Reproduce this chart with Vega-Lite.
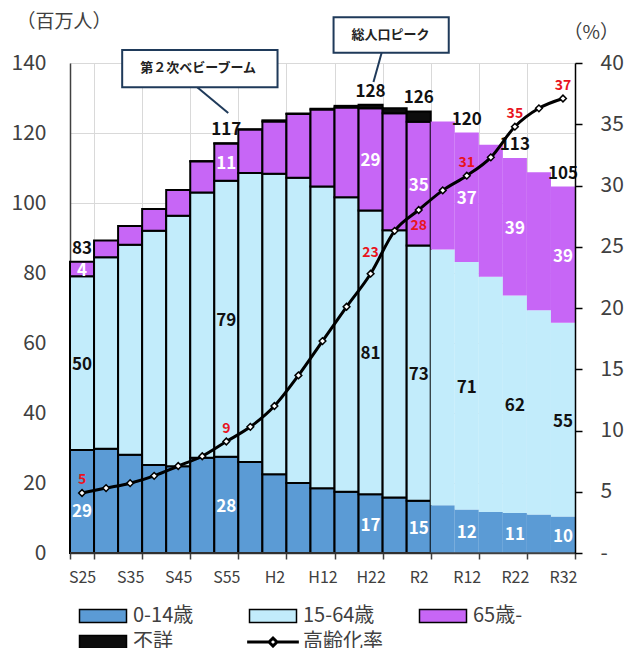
{
  "$schema": "https://vega.github.io/schema/vega-lite/v6.json",
  "autosize": "none",
  "width": 505,
  "height": 490,
  "padding": {"left": 70, "top": 63, "right": 49, "bottom": 95},
  "background": "white",
  "config": {
    "font": "Noto Sans CJK JP",
    "view": {"stroke": null},
    "text": {"font": "Noto Sans CJK JP"}
  },
  "datasets": {
    "pop": [
      {"year": "S25", "age": "0-14歳", "value": 29.43}, {"year": "S25", "age": "15-64歳", "value": 49.66}, {"year": "S25", "age": "65歳-", "value": 4.11},
      {"year": "S30", "age": "0-14歳", "value": 29.80}, {"year": "S30", "age": "15-64歳", "value": 54.73}, {"year": "S30", "age": "65歳-", "value": 4.75},
      {"year": "S35", "age": "0-14歳", "value": 28.07}, {"year": "S35", "age": "15-64歳", "value": 60.00}, {"year": "S35", "age": "65歳-", "value": 5.35},
      {"year": "S40", "age": "0-14歳", "value": 25.17}, {"year": "S40", "age": "15-64歳", "value": 66.93}, {"year": "S40", "age": "65歳-", "value": 6.18},
      {"year": "S45", "age": "0-14歳", "value": 24.82}, {"year": "S45", "age": "15-64歳", "value": 71.57}, {"year": "S45", "age": "65歳-", "value": 7.33},
      {"year": "S50", "age": "0-14歳", "value": 27.22}, {"year": "S50", "age": "15-64歳", "value": 75.81}, {"year": "S50", "age": "65歳-", "value": 8.87}, {"year": "S50", "age": "不詳", "value": 0.05},
      {"year": "S55", "age": "0-14歳", "value": 27.51}, {"year": "S55", "age": "15-64歳", "value": 78.84}, {"year": "S55", "age": "65歳-", "value": 10.65}, {"year": "S55", "age": "不詳", "value": 0.07},
      {"year": "S60", "age": "0-14歳", "value": 26.03}, {"year": "S60", "age": "15-64歳", "value": 82.51}, {"year": "S60", "age": "65歳-", "value": 12.47}, {"year": "S60", "age": "不詳", "value": 0.04},
      {"year": "H2", "age": "0-14歳", "value": 22.49}, {"year": "H2", "age": "15-64歳", "value": 85.90}, {"year": "H2", "age": "65歳-", "value": 14.90}, {"year": "H2", "age": "不詳", "value": 0.33},
      {"year": "H7", "age": "0-14歳", "value": 20.01}, {"year": "H7", "age": "15-64歳", "value": 87.17}, {"year": "H7", "age": "65歳-", "value": 18.26}, {"year": "H7", "age": "不詳", "value": 0.13},
      {"year": "H12", "age": "0-14歳", "value": 18.47}, {"year": "H12", "age": "15-64歳", "value": 86.22}, {"year": "H12", "age": "65歳-", "value": 22.01}, {"year": "H12", "age": "不詳", "value": 0.23},
      {"year": "H17", "age": "0-14歳", "value": 17.52}, {"year": "H17", "age": "15-64歳", "value": 84.09}, {"year": "H17", "age": "65歳-", "value": 25.67}, {"year": "H17", "age": "不詳", "value": 0.48},
      {"year": "H22", "age": "0-14歳", "value": 16.80}, {"year": "H22", "age": "15-64歳", "value": 81.03}, {"year": "H22", "age": "65歳-", "value": 29.25}, {"year": "H22", "age": "不詳", "value": 0.98},
      {"year": "H27", "age": "0-14歳", "value": 15.89}, {"year": "H27", "age": "15-64歳", "value": 76.29}, {"year": "H27", "age": "65歳-", "value": 33.47}, {"year": "H27", "age": "不詳", "value": 1.45},
      {"year": "R2", "age": "0-14歳", "value": 14.96}, {"year": "R2", "age": "15-64歳", "value": 72.92}, {"year": "R2", "age": "65歳-", "value": 35.34}, {"year": "R2", "age": "不詳", "value": 2.93},
      {"year": "R7", "age": "0-14歳", "value": 13.63}, {"year": "R7", "age": "15-64歳", "value": 73.10}, {"year": "R7", "age": "65歳-", "value": 36.53},
      {"year": "R12", "age": "0-14歳", "value": 12.40}, {"year": "R12", "age": "15-64歳", "value": 70.76}, {"year": "R12", "age": "65歳-", "value": 36.96},
      {"year": "R17", "age": "0-14歳", "value": 11.69}, {"year": "R17", "age": "15-64歳", "value": 67.22}, {"year": "R17", "age": "65歳-", "value": 37.73},
      {"year": "R22", "age": "0-14歳", "value": 11.42}, {"year": "R22", "age": "15-64歳", "value": 62.13}, {"year": "R22", "age": "65歳-", "value": 39.29},
      {"year": "R27", "age": "0-14歳", "value": 11.03}, {"year": "R27", "age": "15-64歳", "value": 58.32}, {"year": "R27", "age": "65歳-", "value": 39.45},
      {"year": "R32", "age": "0-14歳", "value": 10.41}, {"year": "R32", "age": "15-64歳", "value": 55.40}, {"year": "R32", "age": "65歳-", "value": 38.88}
    ],
    "aging": [
      {"year": "S25", "rate": 4.9}, {"year": "S30", "rate": 5.3}, {"year": "S35", "rate": 5.7}, {"year": "S40", "rate": 6.3},
      {"year": "S45", "rate": 7.1}, {"year": "S50", "rate": 7.9}, {"year": "S55", "rate": 9.1}, {"year": "S60", "rate": 10.3},
      {"year": "H2", "rate": 12.0}, {"year": "H7", "rate": 14.5}, {"year": "H12", "rate": 17.3}, {"year": "H17", "rate": 20.1},
      {"year": "H22", "rate": 22.8}, {"year": "H27", "rate": 26.3}, {"year": "R2", "rate": 28.0}, {"year": "R7", "rate": 29.6},
      {"year": "R12", "rate": 30.8}, {"year": "R17", "rate": 32.3}, {"year": "R22", "rate": 34.8}, {"year": "R27", "rate": 36.3},
      {"year": "R32", "rate": 37.1}
    ]
  },
  "encoding": {
    "x": {
      "field": "year",
      "type": "nominal",
      "title": null,
      "scale": {
        "domain": ["S25", "S30", "S35", "S40", "S45", "S50", "S55", "S60", "H2", "H7", "H12", "H17", "H22", "H27", "R2", "R7", "R12", "R17", "R22", "R27", "R32"],
        "paddingInner": 0,
        "paddingOuter": 0
      },
      "axis": {
        "values": ["S25", "S35", "S45", "S55", "H2", "H12", "H22", "R2", "R12", "R22", "R32"],
        "tickBand": "extent",
        "grid": true,
        "gridColor": "#D9D9D9",
        "gridWidth": 1,
        "tickSize": 6,
        "tickColor": "#404040",
        "tickWidth": 1.5,
        "domainColor": "#404040",
        "domainWidth": 1.5,
        "labelAngle": 0,
        "labelFontSize": 16,
        "labelColor": "#404040",
        "labelPadding": 10
      }
    }
  },
  "layer": [
    {
      "layer": [
        {
          "data": {"name": "pop"},
          "mark": {"type": "bar", "strokeWidth": 2},
          "encoding": {
            "y": {
              "field": "value",
              "type": "quantitative",
              "stack": "zero",
              "scale": {"domain": [0, 140], "nice": false},
              "axis": {
                "values": [0, 20, 40, 60, 80, 100, 120, 140],
                "title": "（百万人）",
                "titleAngle": 0,
                "titleX": -54,
                "titleY": -42,
                "titleAlign": "left",
                "titleBaseline": "middle",
                "titleFontSize": 19,
                "titleFontWeight": "normal",
                "titleColor": "#404040",
                "labelFontSize": 21,
                "labelColor": "#404040",
                "labelPadding": 24,
                "ticks": false,
                "domainColor": "#404040",
                "domainWidth": 1.5,
                "grid": true,
                "gridColor": "#D9D9D9",
                "gridWidth": 1
              }
            },
            "order": {"field": "age", "sort": "ascending"},
            "color": {
              "field": "age",
              "type": "nominal",
              "scale": {
                "domain": ["0-14歳", "15-64歳", "65歳-", "不詳", "高齢化率"],
                "range": ["#5B9BD5", "#C2ECFB", "#C766F6", "#0D0D0D", "#FFFFFF"]
              },
              "legend": {
                "title": null,
                "orient": "none",
                "legendX": 23,
                "legendY": 543,
                "direction": "horizontal",
                "columns": 3,
                "gridAlign": "all",
                "padding": 0,
                "columnPadding": 28,
                "rowPadding": 6,
                "symbolType": "M-1,-0.28H1V0.28H-1Z",
                "symbolSize": 2209,
                "symbolStrokeColor": "#000000",
                "symbolStrokeWidth": 1.5,
                "symbolOpacity": 1,
                "labelFontSize": 20,
                "labelColor": "#404040",
                "labelOffset": 20,
                "labelLimit": 0,
                "encode": {
                  "symbols": {
                    "update": {
                      "shape": {"signal": "datum.value === '高齢化率' ? 'M-1.1,0H-0.17M0.17,0H1.1M-0.17,0L0,-0.17L0.17,0L0,0.17Z' : 'M-1,-0.28H1V0.28H-1Z'"},
                      "strokeWidth": {"signal": "datum.value === '高齢化率' ? 3 : 1.5"},
                      "stroke": {"value": "#000000"}
                    }
                  }
                }
              }
            },
            "stroke": {
              "condition": {"test": "indexof(['R7','R12','R17','R22','R27','R32'], datum.year) < 0", "value": "#000000"},
              "value": null
            }
          }
        },
        {
          "data": {"values": [{}]},
          "mark": {"type": "rule", "color": "#404040", "strokeWidth": 1.5},
          "encoding": {
            "x": {"datum": "S25", "bandPosition": 0},
            "x2": {"datum": "R32", "bandPosition": 1},
            "y": {"datum": 0}
          }
        },
        {
          "data": {"name": "pop"},
          "transform": [
            {"stack": "value", "groupby": ["year"], "sort": [{"field": "age", "order": "ascending"}], "as": ["v0", "v1"]},
            {"filter": {"field": "year", "oneOf": ["S25", "S55", "H22", "R2", "R12", "R22", "R32"]}},
            {"filter": "datum.age !== '不詳' && !(datum.year === 'S25' && datum.age === '0-14歳')"},
            {"calculate": "(datum.v0 + datum.v1) / 2", "as": "mid"}
          ],
          "mark": {"type": "text", "fontWeight": "bold", "fontSize": 17, "baseline": "middle", "dy": 2},
          "encoding": {
            "y": {"field": "mid", "type": "quantitative"},
            "text": {"field": "value", "type": "quantitative", "format": ".0f"},
            "color": {"condition": {"test": "datum.age === '15-64歳'", "value": "#111111"}, "value": "#FFFFFF"}
          }
        },
        {
          "data": {"name": "pop"},
          "transform": [
            {"stack": "value", "groupby": ["year"], "sort": [{"field": "age", "order": "ascending"}], "as": ["v0", "v1"]},
            {"filter": "datum.year === 'S25' && datum.age === '0-14歳'"},
            {"calculate": "(datum.v0 + datum.v1) / 2", "as": "mid"}
          ],
          "mark": {"type": "text", "fontWeight": "bold", "fontSize": 17, "baseline": "middle", "dy": 11, "color": "#FFFFFF"},
          "encoding": {
            "y": {"field": "mid", "type": "quantitative"},
            "text": {"field": "value", "type": "quantitative", "format": ".0f"}
          }
        },
        {
          "data": {"name": "pop"},
          "transform": [
            {"filter": {"field": "year", "oneOf": ["S25", "S55", "H22", "R2", "R12", "R22", "R32"]}},
            {"aggregate": [{"op": "sum", "field": "value", "as": "total"}], "groupby": ["year"]}
          ],
          "mark": {"type": "text", "fontWeight": "bold", "fontSize": 17, "baseline": "bottom", "dy": -4, "color": "#111111"},
          "encoding": {
            "y": {"field": "total", "type": "quantitative"},
            "text": {"field": "total", "type": "quantitative", "format": ".0f"}
          }
        },
        {
          "data": {"values": [{}]},
          "mark": {"type": "rule", "color": "#1F3A5A", "strokeWidth": 2},
          "encoding": {
            "x": {"datum": "S50", "bandPosition": 0.29},
            "x2": {"datum": "S55", "bandPosition": 0.58},
            "y": {"datum": 133.1},
            "y2": {"datum": 125.7}
          }
        },
        {
          "data": {"values": [{}]},
          "mark": {"type": "rect", "fill": "#FFFFFF", "stroke": "#1F3A5A", "strokeWidth": 2},
          "encoding": {
            "x": {"datum": "S35", "bandPosition": 0.17},
            "x2": {"datum": "H2", "bandPosition": 0.63},
            "y": {"datum": 143.7},
            "y2": {"datum": 133.1}
          }
        },
        {
          "data": {"values": [{"t": "第２次ベビーブーム"}]},
          "mark": {"type": "text", "fontWeight": "bold", "fontSize": 13, "color": "#222222", "baseline": "middle"},
          "encoding": {
            "x": {"datum": "S50", "bandPosition": 0.33},
            "y": {"datum": 138.6},
            "text": {"field": "t"}
          }
        },
        {
          "data": {"values": [{}]},
          "mark": {"type": "rule", "color": "#1F3A5A", "strokeWidth": 2},
          "encoding": {
            "x": {"datum": "H22", "bandPosition": 0.96},
            "x2": {"datum": "H22", "bandPosition": 0.62},
            "y": {"datum": 142.9},
            "y2": {"datum": 134.6}
          }
        },
        {
          "data": {"values": [{}]},
          "mark": {"type": "rect", "fill": "#FFFFFF", "stroke": "#1F3A5A", "strokeWidth": 2},
          "encoding": {
            "x": {"datum": "H12", "bandPosition": 0.96},
            "x2": {"datum": "R7", "bandPosition": 0.75},
            "y": {"datum": 153.1},
            "y2": {"datum": 142.9}
          }
        },
        {
          "data": {"values": [{"t": "総人口ピーク"}]},
          "mark": {"type": "text", "fontWeight": "bold", "fontSize": 13, "color": "#222222", "baseline": "middle"},
          "encoding": {
            "x": {"datum": "H27", "bandPosition": 0.33},
            "y": {"datum": 148.0},
            "text": {"field": "t"}
          }
        }
      ]
    },
    {
      "layer": [
        {
          "data": {"name": "aging"},
          "mark": {
            "type": "line",
            "color": "#000000",
            "strokeWidth": 3,
            "interpolate": "monotone",
            "point": {"shape": "diamond", "filled": true, "fill": "#FFFFFF", "stroke": "#000000", "strokeWidth": 1.5, "size": 45}
          },
          "encoding": {
            "y": {
              "field": "rate",
              "type": "quantitative",
              "scale": {"domain": [0, 40], "nice": false},
              "axis": {
                "orient": "right",
                "values": [0, 5, 10, 15, 20, 25, 30, 35, 40],
                "labelExpr": "datum.value === 0 ? '-' : datum.label",
                "title": "（%）",
                "titleAngle": 0,
                "titleX": -12,
                "titleY": -31,
                "titleAlign": "left",
                "titleBaseline": "middle",
                "titleFontSize": 19,
                "titleFontWeight": "normal",
                "titleColor": "#404040",
                "labelFontSize": 21,
                "labelColor": "#404040",
                "labelPadding": 18,
                "tickSize": 7,
                "tickColor": "#000000",
                "tickWidth": 1.5,
                "domainColor": "#000000",
                "domainWidth": 1.5,
                "grid": false,
                "zindex": 1
              }
            }
          }
        },
        {
          "data": {"name": "aging"},
          "transform": [{"filter": {"field": "year", "oneOf": ["S25", "S55", "R12", "R22", "R32"]}}],
          "mark": {"type": "text", "fontWeight": "bold", "fontSize": 14, "color": "#E8141E", "baseline": "middle", "dy": -13},
          "encoding": {
            "y": {"field": "rate", "type": "quantitative"},
            "text": {"field": "rate", "type": "quantitative", "format": ".0f"}
          }
        },
        {
          "data": {"name": "aging"},
          "transform": [{"filter": "datum.year === 'H22'"}],
          "mark": {"type": "text", "fontWeight": "bold", "fontSize": 14, "color": "#E8141E", "baseline": "middle", "dy": -21},
          "encoding": {
            "y": {"field": "rate", "type": "quantitative"},
            "text": {"field": "rate", "type": "quantitative", "format": ".0f"}
          }
        },
        {
          "data": {"name": "aging"},
          "transform": [{"filter": "datum.year === 'R2'"}],
          "mark": {"type": "text", "fontWeight": "bold", "fontSize": 14, "color": "#E8141E", "baseline": "middle", "dy": 16},
          "encoding": {
            "y": {"field": "rate", "type": "quantitative"},
            "text": {"field": "rate", "type": "quantitative", "format": ".0f"}
          }
        }
      ]
    }
  ],
  "resolve": {"scale": {"y": "independent"}}
}
